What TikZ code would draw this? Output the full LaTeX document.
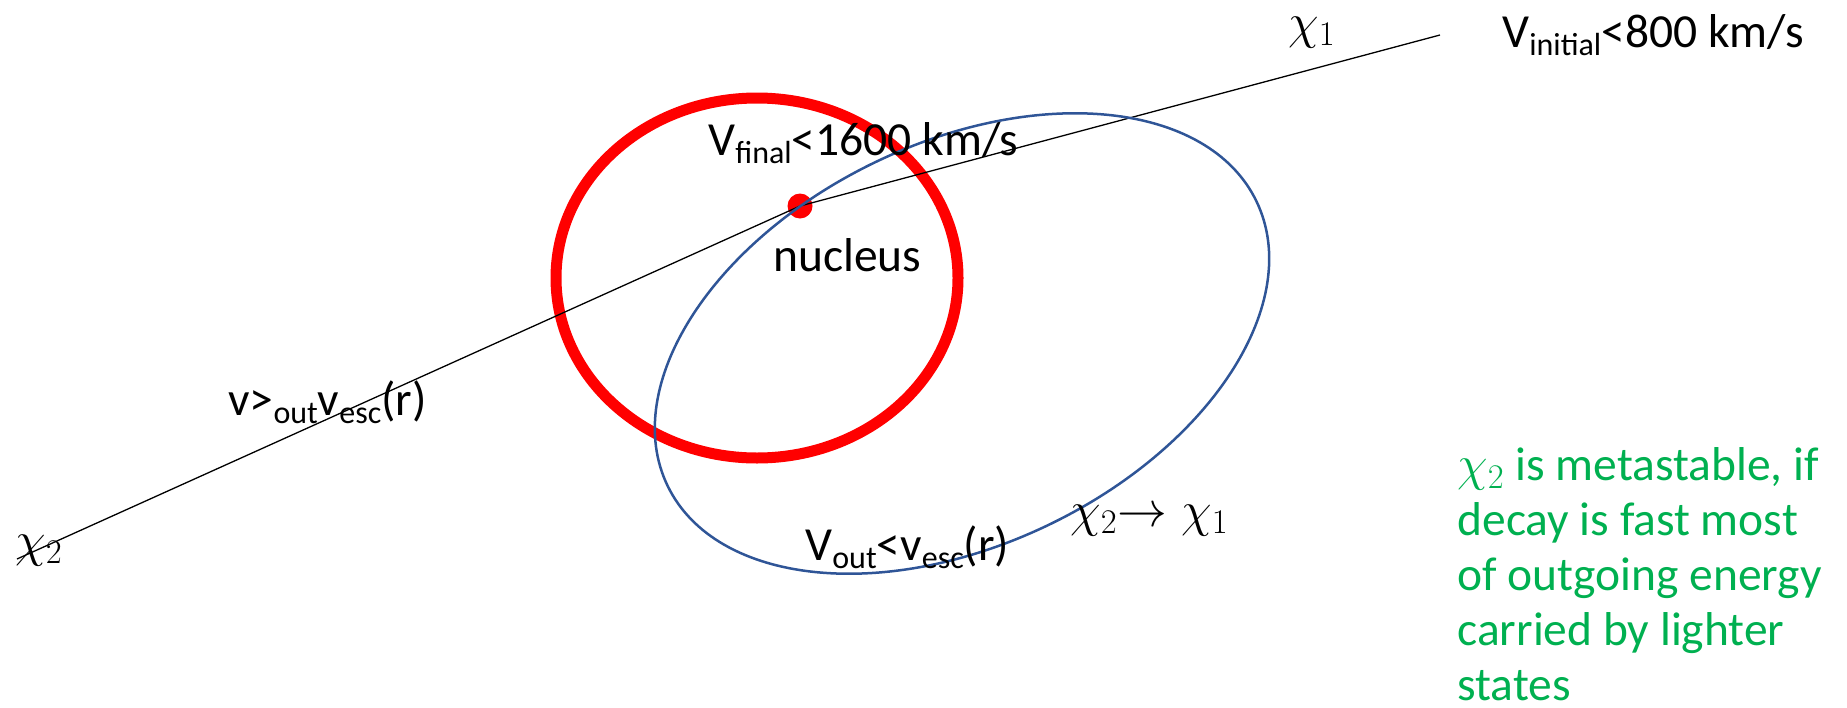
\documentclass[tikz,border=0pt]{standalone}
\usepackage{fontspec}
\setmainfont{Carlito}
\definecolor{orbitblue}{RGB}{47,85,151}
\definecolor{notegreen}{RGB}{0,176,80}
\newcommand\sbs[1]{\raisebox{-4pt}{\fontsize{16}{16}\selectfont #1}}
\begin{document}
\begin{tikzpicture}[x=0.5pt,y=-0.5pt,
  every node/.style={inner sep=0pt, font=\fontsize{23.75}{28}\selectfont},
  lbl/.style={anchor=base west},
  redring/.style={draw=red, line width=5.5pt},
  orbit/.style={draw=orbitblue, line width=1.25pt},
  track/.style={draw=black, line width=0.65pt},
  nucleusdot/.style={circle, fill=red, minimum size=12.5pt},
  note/.style={anchor=base west, align=left, text=notegreen, font=\fontsize{23.75}{27.4}\selectfont}]
\useasboundingbox (0,0) rectangle (1847,707);
% red ring
\draw[redring] (757,278) ellipse [x radius=100.5pt, y radius=90pt];
% nucleus
\node[nucleusdot] (nuc) at (800,206) {};
% track
\coordinate (chiA) at (17,559);
\coordinate (chiB) at (1440,35);
\draw[track] (chiA) -- (nuc.center) -- (chiB);
% orbit
\draw[orbit, rotate around={25.8:(962,343.5)}] (962,343.5) ellipse [x radius=163.5pt, y radius=100.5pt];
% labels
\node[lbl] (chione) at (1288,38) {$\chi_1$};
\node[lbl] (vinit) at (1502,47) {V\sbs{initial}<800 km/s};
\node[lbl] (vfinal) at (708,155) {V\sbs{final}<1600 km/s};
\node[lbl] (nuclbl) at (773,271) {nucleus};
\node[lbl] (vgt) at (228,415) {v>\sbs{out}v\sbs{esc}(r)};
\node[lbl] (chitwo) at (15,556) {$\chi_2$};
\node[lbl] (vout) at (805,560) {V\sbs{out}<v\sbs{esc}(r)};
\node[lbl] (decay) at (1070,526) {$\chi_2\mathord{\rightarrow}\;\chi_1$};
\node[note] (meta) at (1457,700) {$\chi_2$ is metastable, if\\decay is fast most\\of outgoing energy\\carried by lighter\\states};
\end{tikzpicture}
\end{document}
